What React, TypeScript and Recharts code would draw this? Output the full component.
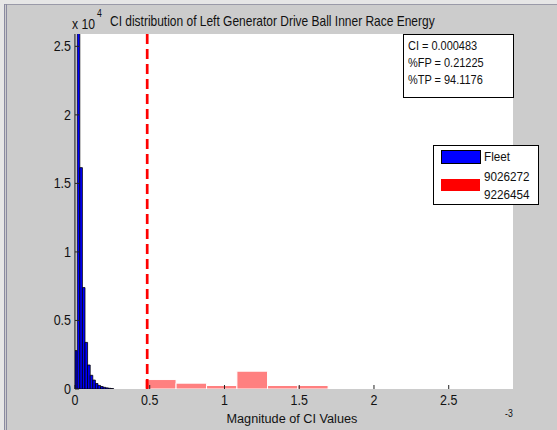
import React from 'react';
import { ComposedChart, XAxis, YAxis, CartesianGrid, ReferenceArea, ReferenceLine } from 'recharts';

// ---------- data ----------
const titleText = 'CI distribution of Left Generator Drive Ball Inner Race Energy';
const xLabelText = 'Magnitude of CI Values';
const xTicks = [0, 0.5, 1, 1.5, 2, 2.5];
const xTickLabels = ['0', '0.5', '1', '1.5', '2', '2.5'];
const yTicks = [0, 5000, 10000, 15000, 20000, 25000];
const yTickLabels = ['0', '0.5', '1', '1.5', '2', '2.5'];
const xDomainMax = 2.93; // x 10^-3
const yDomainMax = 25900;

// Fleet histogram (bin edges in 1e-3 units, counts)
const fleetEdges = [-0.0027, 0.0147, 0.0321, 0.0495, 0.0668, 0.0842, 0.1016, 0.119, 0.1364, 0.1537, 0.1711, 0.1885, 0.2059, 0.2233, 0.2406, 0.258];
const fleetCounts = [2800, 29000, 16150, 7400, 3400, 1750, 1000, 650, 400, 260, 180, 120, 80, 50, 30];

// Test units histogram
const testEdges = [0.468, 0.676, 0.88, 1.083, 1.288, 1.491, 1.693];
const testCounts = [690, 425, 255, 1300, 255, 255];

const ciThreshold = 0.483;
const statLines = ['CI = 0.000483', '%FP = 0.21225', '%TP = 94.1176'];
const fleetName = ['Fleet'];
const testName = ['9026272', '9226454'];

// ---------- styles ----------
const FONT = "'Liberation Sans', Arial, Helvetica, sans-serif";
const BG = '#cccccc';

function sq(x: number, y: number, s: number) {
  return `translate(${x} ${y}) scale(${s} 1) translate(${-x} ${-y})`;
}

function SqText(props: { x: number; y: number; s: number; size: number; anchor?: string; children: React.ReactNode }) {
  const { x, y, s, size, anchor = 'start', children } = props;
  return (
    <text x={x} y={y} fontSize={size} fontFamily={FONT} fill="#111" textAnchor={anchor as any} transform={sq(x, y, s)}>
      {children}
    </text>
  );
}

const XTick = (props: any) => {
  const { x, y, payload } = props;
  const i = xTicks.indexOf(payload.value);
  return (
    <text x={x} y={y} dy="0.71em" fontSize={14} fontFamily={FONT} fill="#111" textAnchor="middle" transform={sq(x, y, 0.89)}>
      {i >= 0 ? xTickLabels[i] : payload.value}
    </text>
  );
};

const YTick = (props: any) => {
  const { x, y, payload } = props;
  const i = yTicks.indexOf(payload.value);
  return (
    <text x={x} y={y} dy="0.355em" fontSize={14} fontFamily={FONT} fill="#111" textAnchor="end" transform={sq(x, y, 0.89)}>
      {i >= 0 ? yTickLabels[i] : payload.value}
    </text>
  );
};

export default function App() {
  return (
    <div style={{ position: 'fixed', left: 0, top: 0, width: 557, height: 430, background: BG, overflow: 'hidden' }}>
      {/* window frame */}
      <div style={{ position: 'absolute', left: 0, top: 0, width: 557, height: 4, background: '#e6e6e6' }} />
      <div style={{ position: 'absolute', left: 0, top: 4, width: 557, height: 1, background: '#9a9aa8' }} />
      <div style={{ position: 'absolute', left: 0, top: 0, width: 4, height: 430, background: '#e6e6e6' }} />
      <div style={{ position: 'absolute', left: 4, top: 4, width: 1, height: 426, background: '#8a8aa0' }} />
      <div style={{ position: 'absolute', left: 6, top: 4, width: 1, height: 426, background: '#8a8aa0' }} />

      <div style={{ position: 'absolute', left: 0, top: 0 }}>
        <ComposedChart width={557} height={430} margin={{ top: 34, right: 44, bottom: 0, left: 15 }}>
          <CartesianGrid fill="#ffffff" stroke="#ffffff" horizontal={false} vertical={false} />
          <XAxis
            type="number"
            dataKey="x"
            domain={[0, xDomainMax]}
            ticks={xTicks}
            allowDataOverflow
            height={41}
            axisLine={false}
            tickSize={-4}
            tickMargin={10}
            tickLine={{ stroke: '#222', strokeWidth: 1 }}
            tick={<XTick />}
            interval={0}
          />
          <YAxis
            type="number"
            domain={[0, yDomainMax]}
            ticks={yTicks}
            allowDataOverflow
            width={60}
            axisLine={{ stroke: '#000', strokeWidth: 1 }}
            tickSize={-4}
            tickMargin={8}
            tickLine={{ stroke: '#222', strokeWidth: 1 }}
            tick={<YTick />}
            interval={0}
          />
          {fleetCounts.map((c, i) => (
            <ReferenceArea
              key={'f' + i}
              x1={fleetEdges[i]}
              x2={fleetEdges[i + 1]}
              y1={0}
              y2={c}
              ifOverflow="hidden"
              fill="#0000ff"
              fillOpacity={1}
              stroke="#000000"
              strokeWidth={0.8}
              strokeOpacity={1}
            />
          ))}
          {testCounts.map((c, i) => (
            <ReferenceArea
              key={'t' + i}
              x1={testEdges[i]}
              x2={testEdges[i + 1]}
              y1={0}
              y2={c}
              ifOverflow="hidden"
              fill="#ff8080"
              fillOpacity={1}
              stroke="#ffffff"
              strokeWidth={1}
              strokeOpacity={1}
            />
          ))}
          <ReferenceLine x={ciThreshold} stroke="#ff0000" strokeWidth={2.7} strokeDasharray="10 5" ifOverflow="hidden" />
        </ComposedChart>
      </div>

      <svg width={557} height={430} style={{ position: 'absolute', left: 0, top: 0, pointerEvents: 'none' }}>
        {/* title and exponents */}
        <SqText x={110} y={26.5} s={0.856} size={14}>{titleText}</SqText>
        <SqText x={72} y={29} s={0.87} size={14}>x 10</SqText>
        <SqText x={97} y={17} s={0.87} size={10}>4</SqText>
        <SqText x={505} y={417} s={0.87} size={10}>-3</SqText>
        <SqText x={226.5} y={423} s={0.94} size={13.5}>{xLabelText}</SqText>

        {/* statistics box */}
        <rect x={403.5} y={34.5} width={110} height={63} fill="#ffffff" stroke="#000" strokeWidth={1} />
        {statLines.map((t, i) => (
          <SqText key={t} x={408} y={50.5 + i * 16.6} s={0.87} size={12.6}>{t}</SqText>
        ))}

        {/* legend */}
        <rect x={433.5} y={145.5} width={105} height={59} fill="#ffffff" stroke="#000" strokeWidth={1} />
        <rect x={441.5} y={150.5} width={39} height={13} fill="#0000ff" stroke="#000" strokeWidth={1} />
        <rect x={441} y={179} width={39} height={12} fill="#ff0000" />
        {fleetName.map((t, i) => (
          <SqText key={t} x={484} y={161.5 + i * 14} s={0.9} size={13}>{t}</SqText>
        ))}
        {testName.map((t, i) => (
          <SqText key={t} x={484} y={181.5 + i * 18} s={0.9} size={13}>{t}</SqText>
        ))}
      </svg>
    </div>
  );
}
